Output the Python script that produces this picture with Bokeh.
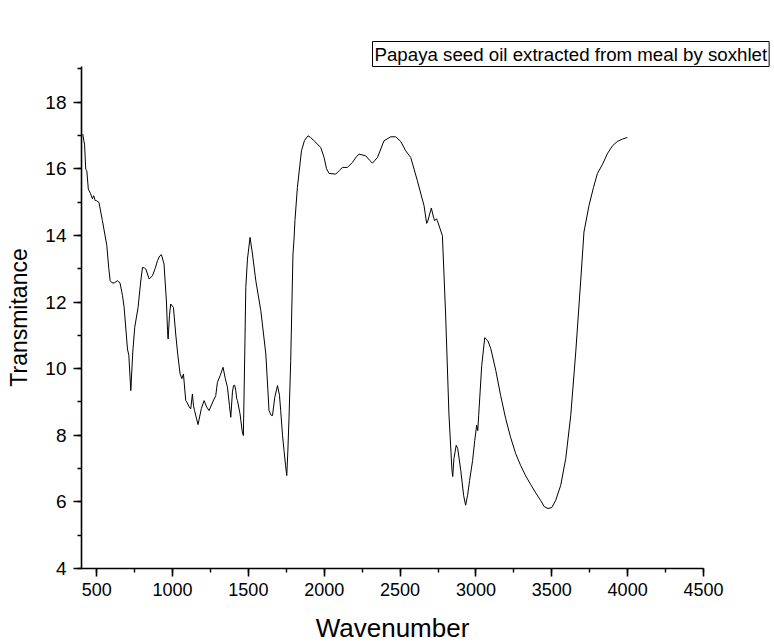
from bokeh.plotting import figure
from bokeh.models import Range1d, SingleIntervalTicker, Title
from bokeh.embed import file_html
from bokeh.resources import INLINE

wavenumber = [409, 415, 420, 428, 435, 445, 460, 472, 480, 490, 500, 515, 538, 567, 580, 589,
              600, 615, 637, 654, 670, 681, 703, 712, 725, 738, 751, 773, 790, 802, 815, 824,
              846, 868, 885, 901, 915, 927, 944, 960, 967, 971, 980, 988, 1006, 1021, 1035,
              1050, 1062, 1072, 1087, 1094, 1110, 1120, 1131, 1138, 1145, 1168, 1190, 1208,
              1225, 1241, 1265, 1285, 1296, 1315, 1333, 1348, 1362, 1375, 1384, 1395, 1402,
              1410, 1417, 1423, 1428, 1445, 1460, 1467, 1476, 1483, 1494, 1511, 1527, 1549,
              1582, 1615, 1628, 1636, 1650, 1659, 1674, 1692, 1705, 1713, 1725, 1735, 1745,
              1753, 1760, 1768, 1779, 1794, 1801, 1807, 1823, 1850, 1870, 1893, 1910, 1933,
              1977, 1999, 2015, 2032, 2076, 2100, 2120, 2153, 2186, 2210, 2230, 2273, 2300,
              2318, 2351, 2394, 2438, 2471, 2504, 2537, 2570, 2614, 2658, 2675, 2680, 2706,
              2720, 2728, 2740, 2746, 2779, 2800, 2822, 2842, 2847, 2855, 2870, 2880, 2900,
              2919, 2932, 2945, 2958, 2978, 2992, 3005, 3012, 3018, 3038, 3058, 3078, 3098,
              3131, 3163, 3196, 3229, 3262, 3295, 3328, 3361, 3394, 3427, 3450, 3475, 3500,
              3526, 3559, 3592, 3625, 3658, 3690, 3712, 3745, 3775, 3800, 3835, 3866, 3900,
              3932, 3965, 3998]
transmitance = [17.04, 16.85, 16.74, 15.99, 15.94, 15.39, 15.25, 15.10, 15.19, 15.05, 15.04,
                14.99, 14.44, 13.69, 13.0, 12.64, 12.58, 12.57, 12.64, 12.57, 12.2, 11.84,
                10.59, 10.4, 9.34, 10.5, 11.24, 11.84, 12.6, 13.04, 13.02, 12.99, 12.69,
                12.79, 13.0, 13.24, 13.38, 13.42, 13.14, 12.0, 11.14, 10.89, 11.6, 11.94,
                11.84, 11.04, 10.4, 9.84, 9.7, 9.84, 9.04, 9.0, 8.85, 8.79, 9.24, 8.9, 8.74,
                8.32, 8.8, 9.04, 8.85, 8.74, 9.0, 9.19, 9.59, 9.8, 10.04, 9.7, 9.44, 8.9,
                8.54, 9.3, 9.49, 9.5, 9.34, 9.1, 9.04, 8.64, 8.1, 7.99, 10.44, 12.44, 13.29,
                13.94, 13.44, 12.64, 11.74, 10.44, 9.4, 8.74, 8.6, 8.59, 9.14, 9.49, 9.2,
                8.74, 8.0, 7.54, 7.1, 6.79, 7.5, 8.54, 10.24, 13.44, 13.89, 14.44, 15.44,
                16.54, 16.85, 16.99, 16.94, 16.84, 16.64, 16.34, 16.0, 15.86, 15.84, 15.95,
                16.04, 16.04, 16.19, 16.35, 16.44, 16.39, 16.25, 16.17, 16.34, 16.84, 16.96,
                16.96, 16.82, 16.54, 16.34, 15.64, 14.89, 14.36, 14.39, 14.82, 14.55, 14.44,
                14.5, 14.44, 13.99, 11.64, 8.64, 6.94, 6.76, 7.3, 7.7, 7.6, 6.94, 6.19, 5.9,
                6.2, 6.64, 7.24, 7.84, 8.3, 8.14, 8.59, 10.09, 10.93, 10.84, 10.6, 9.94,
                9.19, 8.5, 7.93, 7.45, 7.09, 6.78, 6.52, 6.27, 6.04, 5.86, 5.8, 5.83, 6.05,
                6.5, 7.3, 8.6, 10.5, 12.6, 14.1, 14.89, 15.44, 15.85, 16.14, 16.45,
                16.69, 16.82, 16.89, 16.94, 16.96]
legend_text = "Papaya seed oil extracted from meal by soxhlet"

FONT = "Liberation Sans"

p = figure(width=774, height=643, frame_width=622, frame_height=502,
           min_border_left=81, min_border_right=71, min_border_top=66, min_border_bottom=75,
           x_range=Range1d(400, 4500), y_range=Range1d(4, 19.07),
           output_backend="svg", toolbar_location=None, title=None,
           x_axis_label="Wavenumber", y_axis_label="Transmitance")

p.line(wavenumber, transmitance, line_color="black", line_width=1)

p.xaxis.ticker = SingleIntervalTicker(interval=500, num_minor_ticks=2)
p.yaxis.ticker = SingleIntervalTicker(interval=2, num_minor_ticks=2)

for ax in (p.xaxis[0], p.yaxis[0]):
    ax.axis_line_width = 1.6
    ax.axis_line_color = "black"
    ax.major_tick_line_color = "black"
    ax.minor_tick_line_color = "black"
    ax.major_tick_line_width = 1.6
    ax.minor_tick_line_width = 1.4
    ax.major_tick_out = 8
    ax.major_tick_in = 0
    ax.minor_tick_out = 4
    ax.minor_tick_in = 0
    ax.major_label_text_font = FONT
    ax.major_label_text_color = "black"
    ax.axis_label_text_font = FONT
    ax.axis_label_text_font_style = "normal"
    ax.axis_label_text_color = "black"

p.xaxis.major_label_text_font_size = "18px"
p.yaxis.major_label_text_font_size = "19px"
p.xaxis.axis_label_text_font_size = "26px"
p.yaxis.axis_label_text_font_size = "23px"
p.xaxis.major_label_standoff = 6
p.yaxis.major_label_standoff = 7
p.xaxis.axis_label_standoff = 14
p.yaxis.axis_label_standoff = 10

p.xgrid.visible = False
p.ygrid.visible = False
p.outline_line_color = None

box = Title(text=legend_text, align="left", offset=291, text_font=FONT,
            text_font_size="18.7px", text_font_style="normal", text_color="black",
            border_line_color="black", border_line_width=1,
            background_fill_color="white", padding=2, standoff=0)
p.add_layout(box, "above")

# white spacer between the legend box and the frame
spacer = Title(text=".", text_font_size="2px", standoff=25, text_color="white",
               align="left", offset=0)
p.add_layout(spacer, "above")

open("out.html", "w").write(file_html(p, INLINE))
